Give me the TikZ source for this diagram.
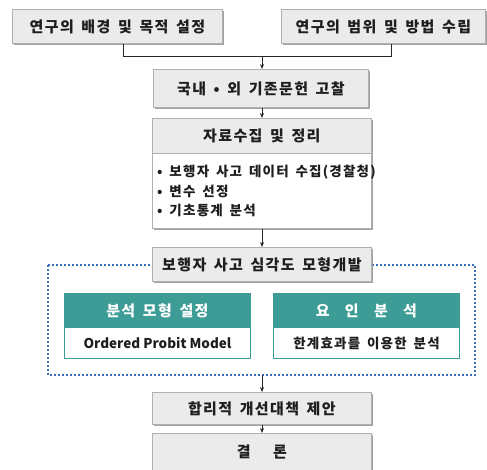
\documentclass[tikz,border=0pt]{standalone}
\usepackage{fontspec}
\setmainfont{Noto Sans CJK KR}[LetterSpace=9, WordSpace=1.6]
\newfontfamily\plainfont{Noto Sans CJK KR}
\usetikzlibrary{arrows.meta,shadows}
\definecolor{teal1}{HTML}{3D9D96}
\definecolor{boxfill}{HTML}{EBEBEB}
\definecolor{boxline}{HTML}{B0B0B0}
\definecolor{dotblue}{HTML}{3A6FC0}
\definecolor{txt}{HTML}{1E1E1E}
\tikzset{
  graybox/.style={draw=boxline, fill=boxfill, line width=0.8pt, anchor=north west, inner sep=0pt,
    font=\bfseries\fontsize{15}{17}\selectfont, text=txt,
    drop shadow={shadow xshift=1.2pt, shadow yshift=-1.2pt, fill=black!45, opacity=0.8}},
  whitebox/.style={draw=boxline, fill=white, line width=0.8pt, anchor=north west, inner sep=0pt,
    drop shadow={shadow xshift=1.2pt, shadow yshift=-1.2pt, fill=black!45, opacity=0.8}},
  bullet/.style={anchor=west, font=\bfseries\fontsize{13.5}{15}\selectfont, text=txt, inner sep=0pt},
  tealhead/.style={draw=teal1, fill=teal1, line width=0.8pt, anchor=north west, inner sep=0pt,
    font=\bfseries\fontsize{15}{17}\selectfont, text=white},
  tealbody/.style={draw=teal1, fill=white, line width=1pt, anchor=north west, inner sep=0pt,
    font=\bfseries\fontsize{13.5}{15}\selectfont, text=txt},
  conn/.style={line width=0.8pt, draw=black!85},
  arr/.style={conn, -{Stealth[length=5pt,width=4pt]}},
}
\begin{document}
\begin{tikzpicture}[x=1pt,y=-1pt]
\useasboundingbox (0,0) rectangle (487,470);
% top boxes
\node[graybox, minimum width=210pt, minimum height=34pt] (b1) at (12,9) {연구의 배경 및 목적 설정};
\node[graybox, minimum width=204pt, minimum height=34pt] (b2) at (281,9) {연구의 범위 및 방법 수립};
\coordinate (j1) at (123,56);
\coordinate (j2) at (391,56);
\coordinate (jm) at (262,56);
\draw[conn] (b1.south -| j1) -- (j1) -- (j2) -- (b2.south -| j2);
% literature
\node[graybox, minimum width=215pt, minimum height=38pt] (b3) at (153,69) {국내 • 외 기존문헌 고찰};
\draw[arr] (jm) -- (b3.north -| jm);
% data collection
\node[graybox, minimum width=219pt, minimum height=35pt] (b4h) at (152,118) {자료수집 및 정리};
\node[whitebox, minimum width=219pt, minimum height=75pt] (b4b) at (152,153) {};
\node[bullet] (l1) at (157,172) {• 보행자 사고 데이터 수집(경찰청)};
\node[bullet] (l2) at (157,191) {• 변수 선정};
\node[bullet] (l3) at (157,210) {• 기초통계 분석};
\draw[arr] (b3.south -| jm) -- (b4h.north -| jm);
% dotted region
\coordinate (d1) at (48,265);
\coordinate (d2) at (475,375);
\draw[dotblue, line width=2pt, dash pattern=on 2pt off 2pt] (d1) rectangle (d2);
\node[graybox, minimum width=219pt, minimum height=34pt] (b5) at (152,247) {보행자 사고 심각도 모형개발};
\draw[arr] (b4b.south -| jm) -- (b5.north -| jm);
% teal boxes
\node[tealhead, minimum width=186pt, minimum height=34pt] (t1h) at (64,293) {분석 모형 설정};
\node[tealbody, minimum width=186pt, minimum height=31pt] (t1b) at (64,327) {\plainfont Ordered Probit Model};
\node[tealhead, minimum width=186pt, minimum height=34pt] (t2h) at (273,293) {요\ \ 인\ \ 분\ \ 석};
\node[tealbody, minimum width=186pt, minimum height=31pt] (t2b) at (273,327) {한계효과를 이용한 분석};
% policy
\node[graybox, minimum width=219pt, minimum height=32pt] (b6) at (152,392) {합리적 개선대책 제안};
\draw[arr] (d2 -| jm) -- (b6.north -| jm);
\node[graybox, minimum width=219pt, minimum height=37pt] (b7) at (152,433) {결\quad\ 론};
\draw[arr] (b6.south -| jm) -- (b7.north -| jm);
\end{tikzpicture}
\end{document}
